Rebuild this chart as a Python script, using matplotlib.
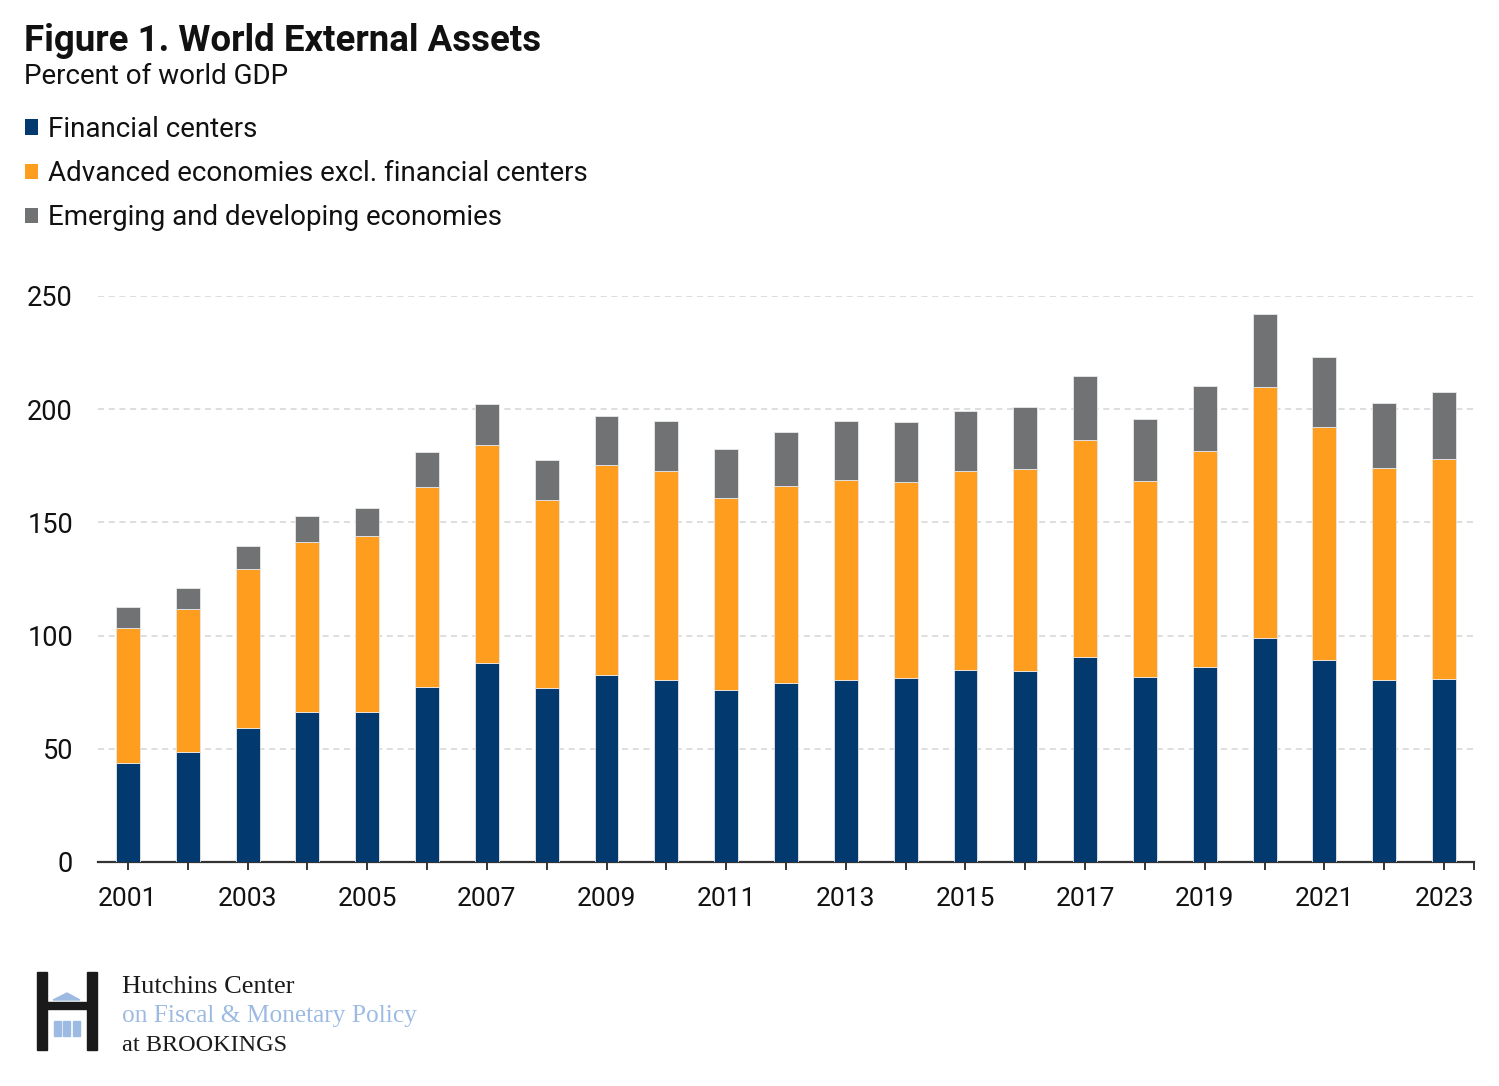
import numpy as np
import matplotlib
matplotlib.use('Agg')
import matplotlib.pyplot as plt
from matplotlib.patches import Patch, Rectangle, Polygon

plt.rcParams['font.family'] = ['Roboto', 'DejaVu Sans']

# --- Data (percent of world GDP) ---
years = list(range(2001, 2024))
financialCenters = [43.7, 48.6, 59.2, 66.3, 66.3, 77.3, 87.9, 76.9, 82.6, 80.4, 76.0, 79.1,
                    80.4, 81.3, 84.8, 84.4, 90.5, 81.7, 86.1, 98.9, 89.2, 80.4, 80.8]
advancedExFc = [59.7, 63.1, 70.2, 75.0, 77.7, 88.3, 96.3, 83.0, 92.8, 92.3, 84.8, 87.0,
                88.3, 86.5, 87.9, 89.2, 95.9, 86.6, 95.4, 110.9, 102.9, 93.6, 97.2]
emergingDev = [9.2, 9.3, 10.2, 11.5, 12.4, 15.5, 18.1, 17.7, 21.6, 22.1, 21.6, 23.8,
               26.1, 26.5, 26.5, 27.4, 28.3, 27.4, 28.7, 32.2, 31.0, 28.7, 29.6]
seriesLabels = ['Financial centers', 'Advanced economies excl. financial centers',
                'Emerging and developing economies']
seriesColors = ['#02396F', '#FF9E1E', '#717274']
yTicks = [0, 50, 100, 150, 200, 250]

W, H = 1499, 1086
fig = plt.figure(figsize=(W / 100, H / 100), dpi=100)

def px(x, y):
    return x / W, 1 - y / H

# --- Main axes ---
ax = fig.add_axes([98 / W, (H - 862) / H, 1376 / W, 566 / H])
x = np.arange(len(years))
bottom = np.zeros(len(years))
for vals, col in zip([financialCenters, advancedExFc, emergingDev], seriesColors):
    ax.bar(x, vals, width=0.4, bottom=bottom, color=col, edgecolor='#e8e8e8',
           linewidth=0.6, zorder=3)
    bottom = bottom + np.array(vals)

ax.set_xlim(-0.5, len(years) - 0.5)
ax.set_ylim(0, 250)
ax.set_yticks(yTicks)
ax.set_yticklabels([str(v) for v in yTicks])
ax.set_xticks(list(x) + [len(years) - 0.5])
ax.set_xticklabels([str(y) if (y - 2001) % 2 == 0 else '' for y in years] + [''])
for v in yTicks[1:]:
    ax.axhline(v, color='#d4d4d4', lw=1.1, ls=(0, (4, 3)), zorder=1)

for s in ['top', 'right', 'left']:
    ax.spines[s].set_visible(False)
ax.spines['bottom'].set_color('#333333')
ax.spines['bottom'].set_linewidth(1.6)
ax.tick_params(axis='y', length=0, pad=18, labelsize=19.5, labelcolor='#111111')
ax.tick_params(axis='x', length=6, width=1.4, color='#333333', pad=12,
               labelsize=19, labelcolor='#111111')

# --- Title and legend ---
fig.text(*px(24, 51), 'Figure 1. World External Assets', fontsize=26.4,
         fontweight='bold', color='#111111', va='baseline')
fig.text(*px(24, 84), 'Percent of world GDP', fontsize=20, color='#111111',
         va='baseline')

handles = [Patch(facecolor=c, edgecolor='none') for c in seriesColors]
fig.legend(handles, seriesLabels, loc='upper left', bbox_to_anchor=px(25, 116),
           frameon=False, fontsize=20, handlelength=0.48, handleheight=0.48,
           handletextpad=0.33, labelspacing=0.62, borderpad=0, borderaxespad=0,
           labelcolor='#111111')

# --- Logo ---
lax = fig.add_axes([0, 0, 1, 1], zorder=-1)
lax.set_xlim(0, W)
lax.set_ylim(H, 0)
lax.axis('off')
lax.add_patch(Rectangle((37, 972), 10, 78, color='#1a1a1a'))
lax.add_patch(Rectangle((87, 972), 10, 78, color='#1a1a1a'))
lax.add_patch(Rectangle((47, 1002), 40, 7, color='#1a1a1a'))
lax.add_patch(Polygon([(53, 1000), (80, 1000), (67, 993)], color='#9dbbe2'))
for cx in [54, 63.5, 73]:
    lax.add_patch(Rectangle((cx, 1021), 7, 15, color='#9dbbe2'))
serif = ['Liberation Serif', 'DejaVu Serif']
lax.text(122, 993, 'Hutchins Center', family=serif, fontsize=19, color='#1a1a1a',
         va='baseline')
lax.text(122, 1022, 'on Fiscal & Monetary Policy', family=serif, fontsize=18.3,
         color='#9dbbe2', va='baseline')
lax.text(122, 1051, 'at BROOKINGS', family=serif, fontsize=17.5, color='#1a1a1a',
         va='baseline')

plt.savefig('out.png', dpi=100)
plt.close()
